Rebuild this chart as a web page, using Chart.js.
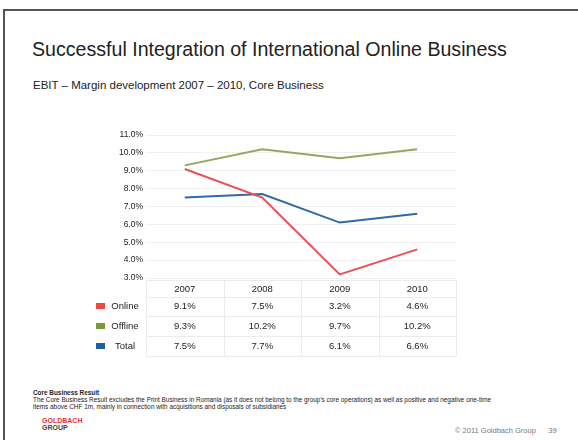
<!DOCTYPE html>
<html>
<head>
<meta charset="utf-8">
<script src="https://cdn.jsdelivr.net/npm/chart.js@4.4.1/dist/chart.umd.min.js"></script>
<style>
  body { margin: 0; background: #fff; font-family: "Liberation Sans", Arial, sans-serif; }
  #page { position: relative; width: 578px; height: 440px; overflow: hidden; }
  #frame { position: absolute; left: 3px; top: 9px; width: 580px; height: 440px;
           border-left: 2px solid #555; border-top: 2px solid #555; }
  .txt { position: absolute; white-space: nowrap; color: #222; }
  #title { left: 32px; top: 38px; font-size: 19.6px; }
  #sub { left: 33px; top: 79px; font-size: 11.5px; }
  #note1 { left: 33px; top: 389px; font-size: 6.4px; font-weight: bold; }
  #note2 { left: 33px; top: 396px; font-size: 6.4px; line-height: 7px; }
  #logo { left: 42px; top: 417px; font-size: 7px; font-weight: bold; line-height: 7px; }
  #foot { left: 455px; top: 426px; font-size: 7.5px; color: #777; }
  canvas { position: absolute; left: 0; top: 0; }
</style>
</head>
<body>
<div id="page">
  <div id="frame"></div>
  <div class="txt" id="title">Successful Integration of International Online Business</div>
  <div class="txt" id="sub">EBIT – Margin development 2007 – 2010, Core Business</div>
  <div class="txt" id="note1">Core Business Result</div>
  <div class="txt" id="note2">The Core Business Result excludes the Print Business in Romania (as it does not belong to the group's core operations) as well as positive and negative one-time<br>items above CHF 1m, mainly in connection with acquisitions and disposals of subsidiaries</div>
  <div class="txt" id="logo"><span style="color:#d33">GOLDBACH</span><br><span style="color:#444">GROUP</span></div>
  <div class="txt" id="foot">© 2011 Goldbach Group &nbsp;&nbsp;&nbsp;&nbsp; 39</div>
  <canvas id="myChart" width="578" height="440"></canvas>
</div>
<script>
// data
const years = ['2007', '2008', '2009', '2010']
const online = [9.1, 7.5, 3.2, 4.6]
const offline = [9.3, 10.2, 9.7, 10.2]
const total = [7.5, 7.7, 6.1, 6.6]
const seriesNames = ['Online', 'Offline', 'Total']
const yMin = 3, yMax = 11, yStep = 1

const lineColors = ['#e8505a', '#94a85e', '#2f6aa6']
const boxColors = ['#f24545', '#7a9a3e', '#1f5fa8']
const font = '"Liberation Sans", Arial, sans-serif'

// table under the plot, uses the x scale for column positions
const tablePlugin = {
    id: 'table',
    afterDraw(chart) {
        const ctx = chart.ctx
        const x = chart.scales.x
        const area = chart.chartArea
        const step = x.getPixelForValue(1) - x.getPixelForValue(0)
        const rows = [online, offline, total]
        const top = area.bottom + 2
        const rowY = [top + 9, top + 26, top + 46, top + 66]
        ctx.save()
        ctx.strokeStyle = '#ebebeb'
        ctx.lineWidth = 1
        // horizontal lines
        const hl = [top, top + 17, top + 36, top + 56, top + 76]
        for (let y of hl) {
            ctx.beginPath()
            ctx.moveTo(area.left, y + 0.5)
            ctx.lineTo(area.right, y + 0.5)
            ctx.stroke()
        }
        // vertical lines
        for (let i = 0; i <= years.length; i++) {
            let px = Math.round(x.getPixelForValue(i) - step / 2) + 0.5
            ctx.beginPath()
            ctx.moveTo(px, top)
            ctx.lineTo(px, top + 76)
            ctx.stroke()
        }
        ctx.fillStyle = '#222'
        ctx.font = '9.5px ' + font
        ctx.textAlign = 'center'
        ctx.textBaseline = 'middle'
        years.forEach((yr, i) => ctx.fillText(yr, x.getPixelForValue(i), rowY[0]))
        rows.forEach((vals, r) => {
            vals.forEach((v, i) => {
                ctx.fillStyle = '#222'
                ctx.fillText(v.toFixed(1) + '%', x.getPixelForValue(i), rowY[r + 1])
            })
            // legend box + name
            ctx.fillStyle = boxColors[r]
            ctx.fillRect(96, rowY[r + 1] - 3, 9, 6)
            ctx.fillStyle = '#222'
            ctx.fillText(seriesNames[r], 125, rowY[r + 1])
        })
        ctx.restore()
    }
}

const ctx = document.getElementById('myChart')
const myChart = new Chart(ctx, {
    type: 'line',
    data: {
        labels: years,
        datasets: [
            { label: seriesNames[0], data: online, borderColor: lineColors[0] },
            { label: seriesNames[1], data: offline, borderColor: lineColors[1] },
            { label: seriesNames[2], data: total, borderColor: lineColors[2] },
        ]
    },
    options: {
        responsive: false,
        animation: false,
        elements: {
            line: { borderWidth: 2, tension: 0 },
            point: { radius: 0 }
        },
        layout: { padding: { left: 106, right: 122, top: 135, bottom: 162 } },
        plugins: { legend: { display: false }, tooltip: { enabled: false } },
        scales: {
            x: {
                display: false,
                offset: true
            },
            y: {
                min: yMin,
                max: yMax,
                border: { display: false },
                afterFit(scale) { scale.width = 40 },
                grid: { color: '#f1f1f1', drawTicks: false },
                ticks: {
                    stepSize: yStep,
                    padding: 3,
                    color: '#222',
                    font: { family: font, size: 8.5 },
                    callback: v => v.toFixed(1) + '%'
                }
            }
        }
    },
    plugins: [tablePlugin]
})
</script>
</body>
</html>
